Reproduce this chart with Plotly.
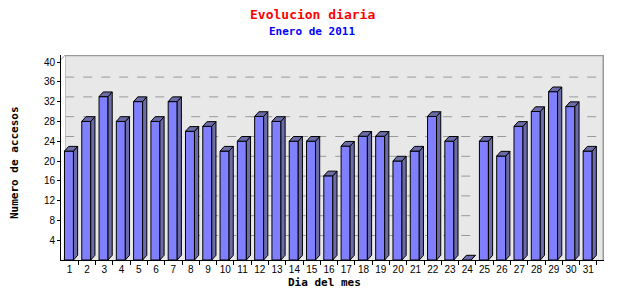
import plotly.graph_objects as go

days = list(range(1, 32))
day_labels = [str(d) for d in days]
visits = [22, 28, 33, 28, 32, 28, 32, 26, 27, 22, 24, 29, 28, 24, 24, 17,
          23, 25, 25, 20, 22, 29, 24, 0, 24, 21, 27, 30, 34, 31, 22]
y_ticks = [4, 8, 12, 16, 20, 24, 28, 32, 36, 40]

title_text = "Evolucion diaria"
subtitle_text = "Enero de 2011"
x_title = "Dia del mes"
y_title = "Numero de accesos"

# geometry (axis units)
L, R, T, B = 61, 36, 55, 40
plot_w = 640 - L - R
plot_h = 300 - T - B
px_per_x = 17.29
px_per_y = 4.95
x_max = 0.5 + plot_w / px_per_x
y_max = plot_h / px_per_y
dx = 4.2 / px_per_x
dy = 4.7 / px_per_y
left_off = -0.30
bar_w = 0.52

FRONT = "#8080ff"
SIDE = "#6b6ba8"

fig = go.Figure()

# front faces
fig.add_trace(go.Bar(
    x=days, y=visits, width=bar_w, offset=left_off,
    marker=dict(color=FRONT, line=dict(color="black", width=1)),
    hoverinfo="skip", showlegend=False))

# side faces and top faces
sx, sy, tx, ty = [], [], [], []
for d, v in zip(days, visits):
    xl = d + left_off
    xr = xl + bar_w
    sx += [xr, xr, xr + dx, xr + dx, xr, None]
    sy += [0, v, v + dy, dy, 0, None]
    tx += [xl, xl + dx, xr + dx, xr, xl, None]
    ty += [v, v + dy, v + dy, v, v, None]

fig.add_trace(go.Scatter(x=sx, y=sy, mode="lines", fill="toself",
                         fillcolor=SIDE, line=dict(color="black", width=1),
                         hoverinfo="skip", showlegend=False))
fig.add_trace(go.Scatter(x=tx, y=ty, mode="lines", fill="toself",
                         fillcolor=SIDE, line=dict(color="black", width=1),
                         hoverinfo="skip", showlegend=False))

shapes = []
# back-wall grid lines (shifted by depth)
for v in y_ticks[:-1]:
    shapes.append(dict(type="line", xref="x", yref="y", x0=0.5 + dx, x1=x_max,
                       y0=v + dy, y1=v + dy, layer="below",
                       line=dict(color="#999999", width=1, dash="dash")))
# back-wall border
shapes.append(dict(type="line", xref="x", yref="y", x0=0.5 + dx, x1=x_max,
                   y0=y_max - 0.05, y1=y_max - 0.05, layer="below",
                   line=dict(color="#999999", width=2)))
shapes.append(dict(type="line", xref="x", yref="y", x0=x_max - 0.03, x1=x_max - 0.03,
                   y0=0, y1=y_max, layer="below",
                   line=dict(color="#999999", width=2)))
shapes.append(dict(type="line", xref="x", yref="y", x0=0.5 + dx, x1=0.5 + dx,
                   y0=dy, y1=y_max, layer="below",
                   line=dict(color="#999999", width=1)))
# left wall (white wedge)
shapes.append(dict(type="path", xref="x", yref="y", layer="below",
                   path=f"M 0.5 0 L {0.5+dx} {dy} L {0.5+dx} {y_max} L 0.5 {y_max} Z",
                   fillcolor="white", line=dict(width=0)))
shapes.append(dict(type="line", xref="x", yref="y", x0=0.5, x1=0.5 + dx,
                   y0=y_max - dy, y1=y_max, layer="below",
                   line=dict(color="#999999", width=1)))

fig.update_layout(
    width=640, height=300,
    margin=dict(l=L, r=R, t=T, b=B),
    paper_bgcolor="white", plot_bgcolor="#e8e8e8",
    shapes=shapes,
    showlegend=False,
    annotations=[
        dict(text=title_text, xref="paper", yref="paper", x=(312 - L) / plot_w,
             y=1 + (T - 14) / plot_h, xanchor="center", yanchor="middle",
             showarrow=False,
             font=dict(family="DejaVu Sans Mono", size=13, color="red", weight="bold")),
        dict(text=subtitle_text, xref="paper", yref="paper", x=(312 - L) / plot_w,
             y=1 + (T - 32) / plot_h, xanchor="center", yanchor="middle",
             showarrow=False,
             font=dict(family="DejaVu Sans Mono", size=11, color="blue", weight="bold")),
        dict(text=y_title, xref="paper", yref="paper", x=(14 - L) / plot_w,
             y=(260 - 163) / plot_h, xanchor="center", yanchor="middle",
             textangle=-90, showarrow=False,
             font=dict(family="DejaVu Sans Mono", size=11, color="black", weight="bold")),
        dict(text=x_title, xref="paper", yref="paper", x=(324 - L) / plot_w,
             y=-(282 - 260) / plot_h, xanchor="center", yanchor="middle",
             showarrow=False,
             font=dict(family="DejaVu Sans Mono", size=11, color="black", weight="bold")),
    ],
)

fig.update_xaxes(
    range=[0.5, x_max], tickmode="array", tickvals=days, ticktext=day_labels,
    ticks="", showgrid=False, zeroline=False, showline=True, linecolor="black",
    linewidth=1, tickfont=dict(family="Liberation Sans", size=10, color="black"),
    minor=dict(tickmode="array", tickvals=[d + 0.5 for d in days], ticks="outside",
               ticklen=4, tickcolor="black", showgrid=False),
    fixedrange=True)
fig.update_yaxes(
    range=[0, y_max], tickmode="array", tickvals=y_ticks,
    ticks="outside", ticklen=3, tickcolor="black", showgrid=False, zeroline=False,
    showline=True, linecolor="black", linewidth=1,
    tickfont=dict(family="Liberation Sans", size=10, color="black"),
    fixedrange=True)

fig.write_html("out.html")
